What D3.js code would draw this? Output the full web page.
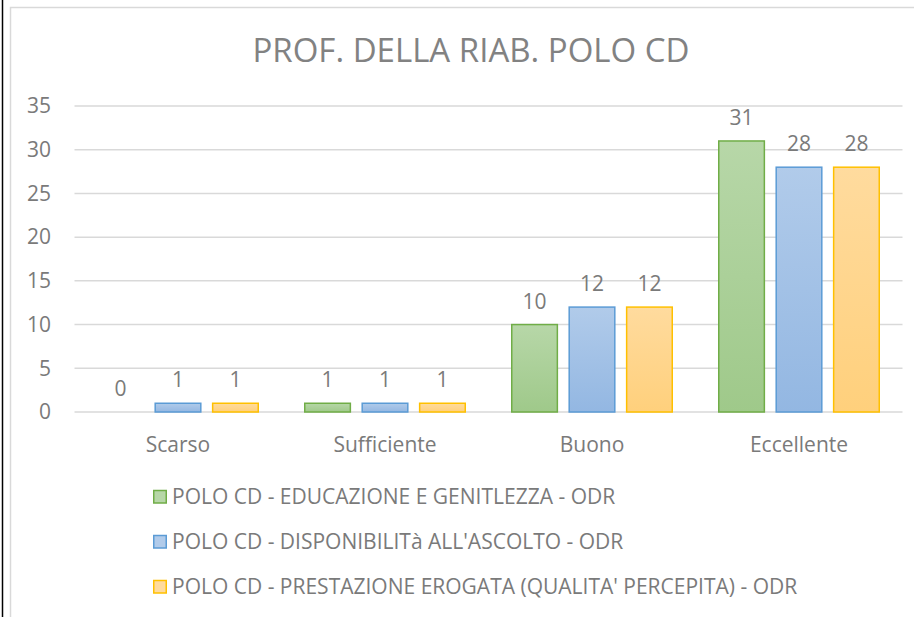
<!DOCTYPE html>
<html>
<head>
<meta charset="utf-8">
<script src="https://cdn.jsdelivr.net/npm/d3@7"></script>
<style>
  body { margin: 0; background: #fff; }
  svg text { font-family: "Open Sans", Lato, sans-serif; fill: #7a7a7a; }
</style>
</head>
<body>
<div id="chart"></div>
<script>
// data
const categories = ['Scarso', 'Sufficiente', 'Buono', 'Eccellente'];
const series_names = [
  'POLO CD - EDUCAZIONE E GENITLEZZA - ODR',
  "POLO CD - DISPONIBILITà ALL'ASCOLTO - ODR",
  "POLO CD - PRESTAZIONE EROGATA (QUALITA' PERCEPITA) - ODR"
];
const educazione = [0, 1, 10, 31];
const disponibilita = [1, 1, 12, 28];
const prestazione = [1, 1, 12, 28];
const y_ticks = [0, 5, 10, 15, 20, 25, 30, 35];

const series_values = [educazione, disponibilita, prestazione];
const fills = [['#b7d7a8', '#9fc98a'], ['#b1cbea', '#93b7e2'], ['#ffdb9e', '#ffd07c']];
const strokes = ['#70ad47', '#5b9bd5', '#ffc000'];

const width = 914, height = 617;
const margin = { left: 74.5, right: 11.5, top: 106, bottom: 205 };
const font_size = 21;

const svg = d3.select('#chart')
    .append('svg')
    .attr('width', width)
    .attr('height', height);

// gradients for the bars
const defs = svg.append('defs');
fills.forEach(function (f, i) {
    let g = defs.append('linearGradient')
        .attr('id', 'grad' + i)
        .attr('x1', 0).attr('y1', 0).attr('x2', 0).attr('y2', 1);
    g.append('stop').attr('offset', '0%').attr('stop-color', f[0]);
    g.append('stop').attr('offset', '100%').attr('stop-color', f[1]);
});

// page border + chart border
svg.append('line')
    .attr('x1', 2.5).attr('x2', 2.5).attr('y1', 0).attr('y2', height)
    .attr('stroke', '#000').attr('stroke-width', 1.5);
svg.append('path')
    .attr('d', 'M10.5,' + height + 'V7.5H' + width)
    .attr('fill', 'none')
    .attr('stroke', '#d9d9d9').attr('stroke-width', 1.5);

const x0 = d3.scaleBand()
    .domain(categories)
    .range([margin.left, width - margin.right]);

const x1 = d3.scaleBand()
    .domain(d3.range(series_values.length))
    .range([22.5, x0.bandwidth() - 22.5])
    .paddingInner(0.18);

const y = d3.scaleLinear()
    .domain([0, 35])
    .range([height - margin.bottom, margin.top]);

// gridlines
svg.append('g')
    .selectAll('line')
    .data(y_ticks)
    .join('line')
    .attr('x1', margin.left).attr('x2', width - margin.right)
    .attr('y1', d => y(d)).attr('y2', d => y(d))
    .attr('stroke', '#d9d9d9').attr('stroke-width', 1.5);

// y tick labels
svg.append('g')
    .selectAll('text')
    .data(y_ticks)
    .join('text')
    .attr('x', 51)
    .attr('y', d => y(d))
    .attr('dy', '0.35em')
    .attr('text-anchor', 'end')
    .style('font-size', font_size + 'px')
    .text(d => d);

// bars
const groups = svg.append('g')
    .selectAll('g')
    .data(categories)
    .join('g')
    .attr('transform', d => 'translate(' + x0(d) + ',0)');

groups.each(function (cat, ci) {
    let g = d3.select(this);
    series_values.forEach(function (vals, si) {
        let v = vals[ci];
        if (v > 0) {
            g.append('rect')
                .attr('x', x1(si) + 0.75)
                .attr('y', y(v))
                .attr('width', x1.bandwidth() - 1.5)
                .attr('height', y(0) - y(v))
                .attr('fill', 'url(#grad' + si + ')')
                .attr('stroke', strokes[si])
                .attr('stroke-width', 1.5);
        }
        g.append('text')
            .attr('x', x1(si) + x1.bandwidth() / 2)
            .attr('y', y(v) - 16)
            .attr('text-anchor', 'middle')
            .style('font-size', font_size + 'px')
            .text(v);
    });
});

// category labels
svg.append('g')
    .selectAll('text')
    .data(categories)
    .join('text')
    .attr('x', d => x0(d) + x0.bandwidth() / 2)
    .attr('y', 452)
    .attr('text-anchor', 'middle')
    .style('font-size', font_size + 'px')
    .text(d => d);

// title
svg.append('text')
    .attr('x', 471)
    .attr('y', 62)
    .attr('text-anchor', 'middle')
    .style('font-size', '33px')
    .style('fill', '#828282')
    .text('PROF. DELLA RIAB. POLO CD');

// legend
const legend = svg.append('g')
    .selectAll('g')
    .data(series_names)
    .join('g')
    .attr('transform', (d, i) => 'translate(153,' + (497 + i * 45) + ')');

legend.append('rect')
    .attr('x', 0.75).attr('y', -6.5)
    .attr('width', 12.5).attr('height', 12.5)
    .attr('fill', (d, i) => fills[i][0])
    .attr('stroke', (d, i) => strokes[i])
    .attr('stroke-width', 1.5);

legend.append('text')
    .attr('x', 19)
    .attr('y', 0)
    .attr('dy', '0.35em')
    .style('font-size', font_size + 'px')
    .text(d => d);
</script>
</body>
</html>
